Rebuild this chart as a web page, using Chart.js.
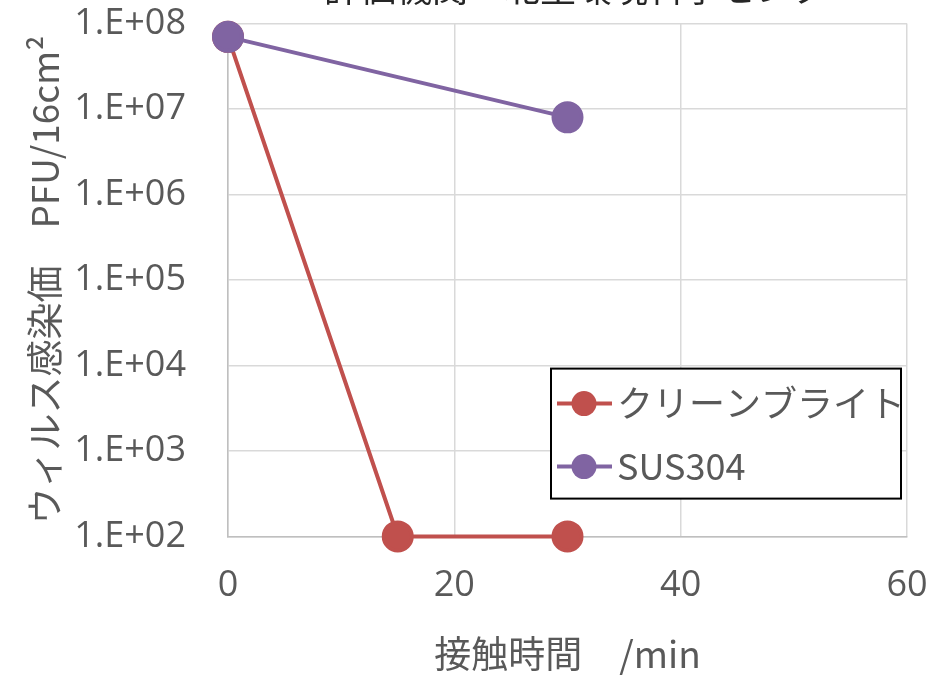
<!DOCTYPE html>
<html>
<head>
<meta charset="utf-8">
<script src="https://cdn.jsdelivr.net/npm/chart.js@4.4.0/dist/chart.umd.min.js"></script>
<style>
  html, body { margin: 0; padding: 0; background: #fff; }
  #wrap { width: 935px; height: 676px; position: relative; overflow: hidden; }
</style>
</head>
<body>
<div id="wrap"><canvas id="chart" width="935" height="676"></canvas></div>
<script>
// --- dati ---
const chartTitle = '評価機関：北里環境科学センター';
const seriesNames = ['クリーンブライト', 'SUS304'];
const seriesColors = ['#C0504D', '#8064A2'];
const cleanBrightTimes = [0, 15, 30];
const cleanBrightValues = [7e7, 100, 100];
const susTimes = [0, 30];
const susValues = [7e7, 8e6];
const yTickValues = [1e2, 1e3, 1e4, 1e5, 1e6, 1e7, 1e8];
const yTickLabels = ['1.E+02', '1.E+03', '1.E+04', '1.E+05', '1.E+06', '1.E+07', '1.E+08'];
const xTitle = '接触時間　/min';
const yTitle = 'ウィルス感染価　PFU/16cm²';

const textColor = '#595959';
const numFont = "'Open Sans', sans-serif";
const jpFont = "'Noto Sans CJK JP', sans-serif";

// titolo tagliato in alto + legenda dentro l'area del grafico
const overlayPlugin = {
  id: 'overlay',
  afterDraw(chart) {
    const c = chart.ctx;
    const area = chart.chartArea;
    c.save();
    // titolo (visibile solo la parte bassa)
    c.fillStyle = '#262626';
    c.font = '36px ' + jpFont;
    c.textAlign = 'center';
    c.textBaseline = 'middle';
    c.fillText(chartTitle, 594, -12);

    // legenda
    const bx = area.left + 323, by = area.top + 345;
    const bw = area.right - 6 - bx, bh = 130;
    c.fillStyle = '#fff';
    c.fillRect(bx, by, bw, bh);
    c.strokeStyle = '#000';
    c.lineWidth = 2;
    c.strokeRect(bx, by, bw, bh);
    chart.data.datasets.forEach((ds, i) => {
      const cy = by + 35 + i * 63;
      c.strokeStyle = ds.borderColor;
      c.lineWidth = 4;
      c.beginPath();
      c.moveTo(bx + 6, cy);
      c.lineTo(bx + 61, cy);
      c.stroke();
      c.fillStyle = ds.borderColor;
      c.beginPath();
      c.arc(bx + 33, cy, 12.5, 0, Math.PI * 2);
      c.fill();
      c.fillStyle = textColor;
      c.font = '36px ' + jpFont;
      c.textAlign = 'left';
      c.textBaseline = 'middle';
      c.fillText(ds.label, bx + 66, cy);
    });
    c.restore();
  }
};

const ctx = document.getElementById('chart').getContext('2d');
const myChart = new Chart(ctx, {
  type: 'line',
  data: {
    datasets: [{
      label: seriesNames[0],
      data: cleanBrightTimes.map((t, i) => ({ x: t, y: cleanBrightValues[i] })),
      borderColor: seriesColors[0],
      backgroundColor: seriesColors[0],
      borderWidth: 4,
      pointRadius: 14,
      pointHoverRadius: 14,
      clip: false,
      order: 2
    }, {
      label: seriesNames[1],
      data: susTimes.map((t, i) => ({ x: t, y: susValues[i] })),
      borderColor: seriesColors[1],
      backgroundColor: seriesColors[1],
      borderWidth: 4,
      pointRadius: 14,
      pointHoverRadius: 14,
      clip: false,
      order: 1
    }]
  },
  options: {
    responsive: false,
    animation: false,
    layout: { padding: { top: 1, right: 28, left: 0, bottom: 0 } },
    plugins: {
      legend: { display: false },
      title: { display: false },
      tooltip: { enabled: false }
    },
    scales: {
      x: {
        type: 'linear',
        min: 0,
        max: 60,
        grid: { color: '#d9d9d9', lineWidth: 1.5, drawTicks: true, tickLength: 26, tickColor: 'rgba(0,0,0,0)' },
        border: { color: '#bfbfbf', width: 1.5 },
        ticks: {
          stepSize: 20,
          padding: 2,
          color: textColor,
          font: { family: numFont, size: 36 }
        },
        title: {
          display: true,
          text: xTitle,
          color: textColor,
          font: { family: jpFont, size: 37 },
          padding: { top: 22, bottom: 0 }
        }
      },
      y: {
        type: 'logarithmic',
        min: 1e2,
        max: 1e8,
        grid: { color: '#d9d9d9', lineWidth: 1.5, drawTicks: true, tickLength: 40, tickColor: 'rgba(0,0,0,0)' },
        border: { color: '#bfbfbf', width: 1.5 },
        afterBuildTicks(scale) {
          scale.ticks = yTickValues.map(v => ({ value: v }));
        },
        afterFit(scale) {
          scale.width = 228;
        },
        ticks: {
          padding: 2,
          color: textColor,
          font: { family: numFont, size: 36 },
          callback: function(value) {
            const idx = yTickValues.indexOf(value);
            return idx >= 0 ? yTickLabels[idx] : '';
          }
        },
        title: {
          display: true,
          text: yTitle,
          color: textColor,
          font: { family: jpFont, size: 37 },
          padding: { top: 23, bottom: 0 }
        }
      }
    }
  },
  plugins: [overlayPlugin]
});
</script>
</body>
</html>
